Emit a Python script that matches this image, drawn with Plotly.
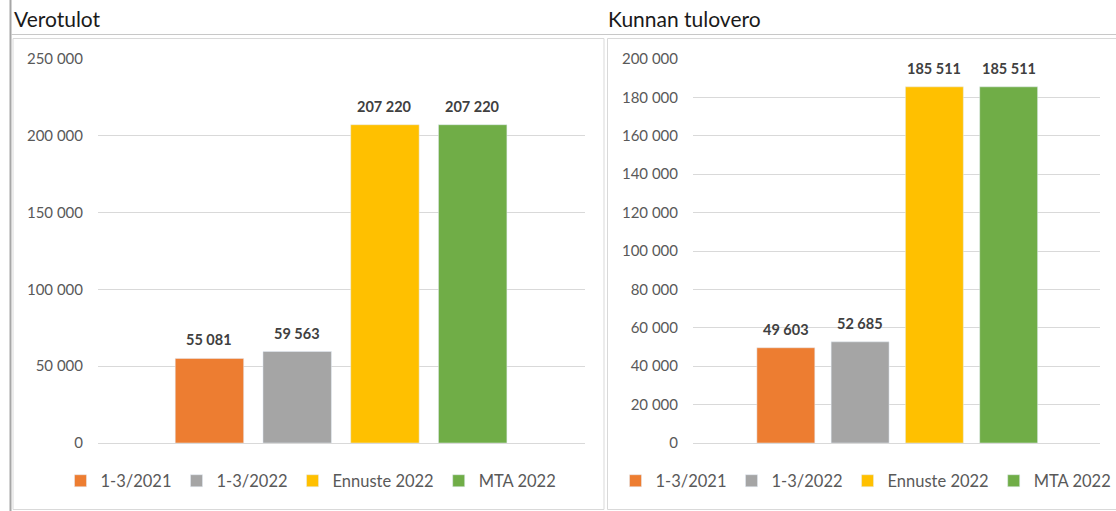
import plotly.graph_objects as go

W, H = 1116, 511

series = ["1-3/2021", "1-3/2022", "Ennuste 2022", "MTA 2022"]
colors = ["#ED7D31", "#A5A5A5", "#FFC000", "#70AD47"]

verotulot = [55081, 59563, 207220, 207220]
kunnan_tulovero = [49603, 52685, 185511, 185511]

titles = ["Verotulot", "Kunnan tulovero"]
left_ticks = [0, 50000, 100000, 150000, 200000, 250000]
right_ticks = [0, 20000, 40000, 60000, 80000, 100000, 120000, 140000, 160000, 180000, 200000]

FONT = "Lato"
TICK_COLOR = "#595959"
LABEL_COLOR = "#404040"


def px(x):
    return x / W


def py(y):
    return 1 - y / H


fig = go.Figure()

for i, (name, col) in enumerate(zip(series, colors)):
    fig.add_trace(go.Bar(
        x=[name], y=[verotulot[i]], name=name, marker_color=col,
        width=0.78, xaxis="x", yaxis="y", legend="legend",
        hoverinfo="y"))
for i, (name, col) in enumerate(zip(series, colors)):
    fig.add_trace(go.Bar(
        x=[name], y=[kunnan_tulovero[i]], name=name, marker_color=col,
        width=0.78, xaxis="x2", yaxis="y2", legend="legend2",
        hoverinfo="y"))

annotations = []
for xr, yr, vals in (("x", "y", verotulot), ("x2", "y2", kunnan_tulovero)):
    for name, v in zip(series, vals):
        annotations.append(dict(
            x=name, y=v, xref=xr, yref=yr, text=f"{v:,}".replace(",", " "),
            showarrow=False, yanchor="bottom", yshift=8,
            font=dict(family=FONT, size=14.5, color=LABEL_COLOR, weight="bold")))

annotations.append(dict(x=px(12), y=py(18), xref="paper", yref="paper",
                        text=titles[0], showarrow=False, xanchor="left", yanchor="middle",
                        font=dict(family=FONT, size=21, color="#1a1a1a")))
annotations.append(dict(x=px(606), y=py(18), xref="paper", yref="paper",
                        text=titles[1], showarrow=False, xanchor="left", yanchor="middle",
                        font=dict(family=FONT, size=21, color="#1a1a1a")))

shapes = [
    dict(type="line", xref="paper", yref="paper", x0=px(10.5), x1=px(10.5), y0=0, y1=1,
         line=dict(color="#a6a6a6", width=2)),
    dict(type="line", xref="paper", yref="paper", x0=px(11), x1=1, y0=py(34.5), y1=py(34.5),
         line=dict(color="#c8c8c8", width=1)),
    dict(type="rect", xref="paper", yref="paper", x0=px(13), x1=px(604), y0=py(509.5), y1=py(38.5),
         line=dict(color="#d9d9d9", width=1)),
    dict(type="rect", xref="paper", yref="paper", x0=px(607.5), x1=px(1125), y0=py(509.5), y1=py(38.5),
         line=dict(color="#d9d9d9", width=1)),
]

ydom = [py(443), py(59)]
axis_common = dict(showgrid=True, gridcolor="#d9d9d9", gridwidth=1, zeroline=True,
                   zerolinecolor="#d9d9d9", zerolinewidth=1, showline=False,
                   tickformat=",d", ticks="", ticklabelstandoff=14, automargin=False,
                   tickfont=dict(family=FONT, size=15, color=TICK_COLOR), fixedrange=True)

xaxis_common = dict(type="category", categoryorder="array", categoryarray=series,
                    showticklabels=False, showgrid=False, zeroline=False,
                    fixedrange=True, automargin=False)

legend_common = dict(orientation="h", xanchor="center", yanchor="middle",
                     font=dict(family=FONT, size=16.5, color=TICK_COLOR), itemwidth=30,
                     bgcolor="rgba(0,0,0,0)", itemclick=False, itemdoubleclick=False)

fig.update_layout(
    width=W, height=H, autosize=False,
    margin=dict(l=0, r=0, t=0, b=0, autoexpand=False),
    paper_bgcolor="white", plot_bgcolor="white",
    separators=", ",
    barmode="overlay",
    font=dict(family=FONT, color=TICK_COLOR),
    xaxis=dict(domain=[px(98), px(585)], range=[-1.27, 4.28], **xaxis_common),
    xaxis2=dict(domain=[px(693), px(1100)], range=[-1.25, 4.23], **xaxis_common),
    yaxis=dict(domain=ydom, anchor="x", range=[0, 250000], tickvals=left_ticks, **axis_common),
    yaxis2=dict(domain=ydom, anchor="x2", range=[0, 200000], tickvals=right_ticks, **axis_common),
    legend=dict(x=px(311), y=py(481), **legend_common),
    legend2=dict(x=px(866), y=py(481), **legend_common),
    annotations=annotations,
    shapes=shapes,
    showlegend=True,
)

fig.write_html(
    "out.html",
    config={"displayModeBar": False},
    post_script="document.body.style.margin='0';document.body.style.overflow='hidden';",
)
